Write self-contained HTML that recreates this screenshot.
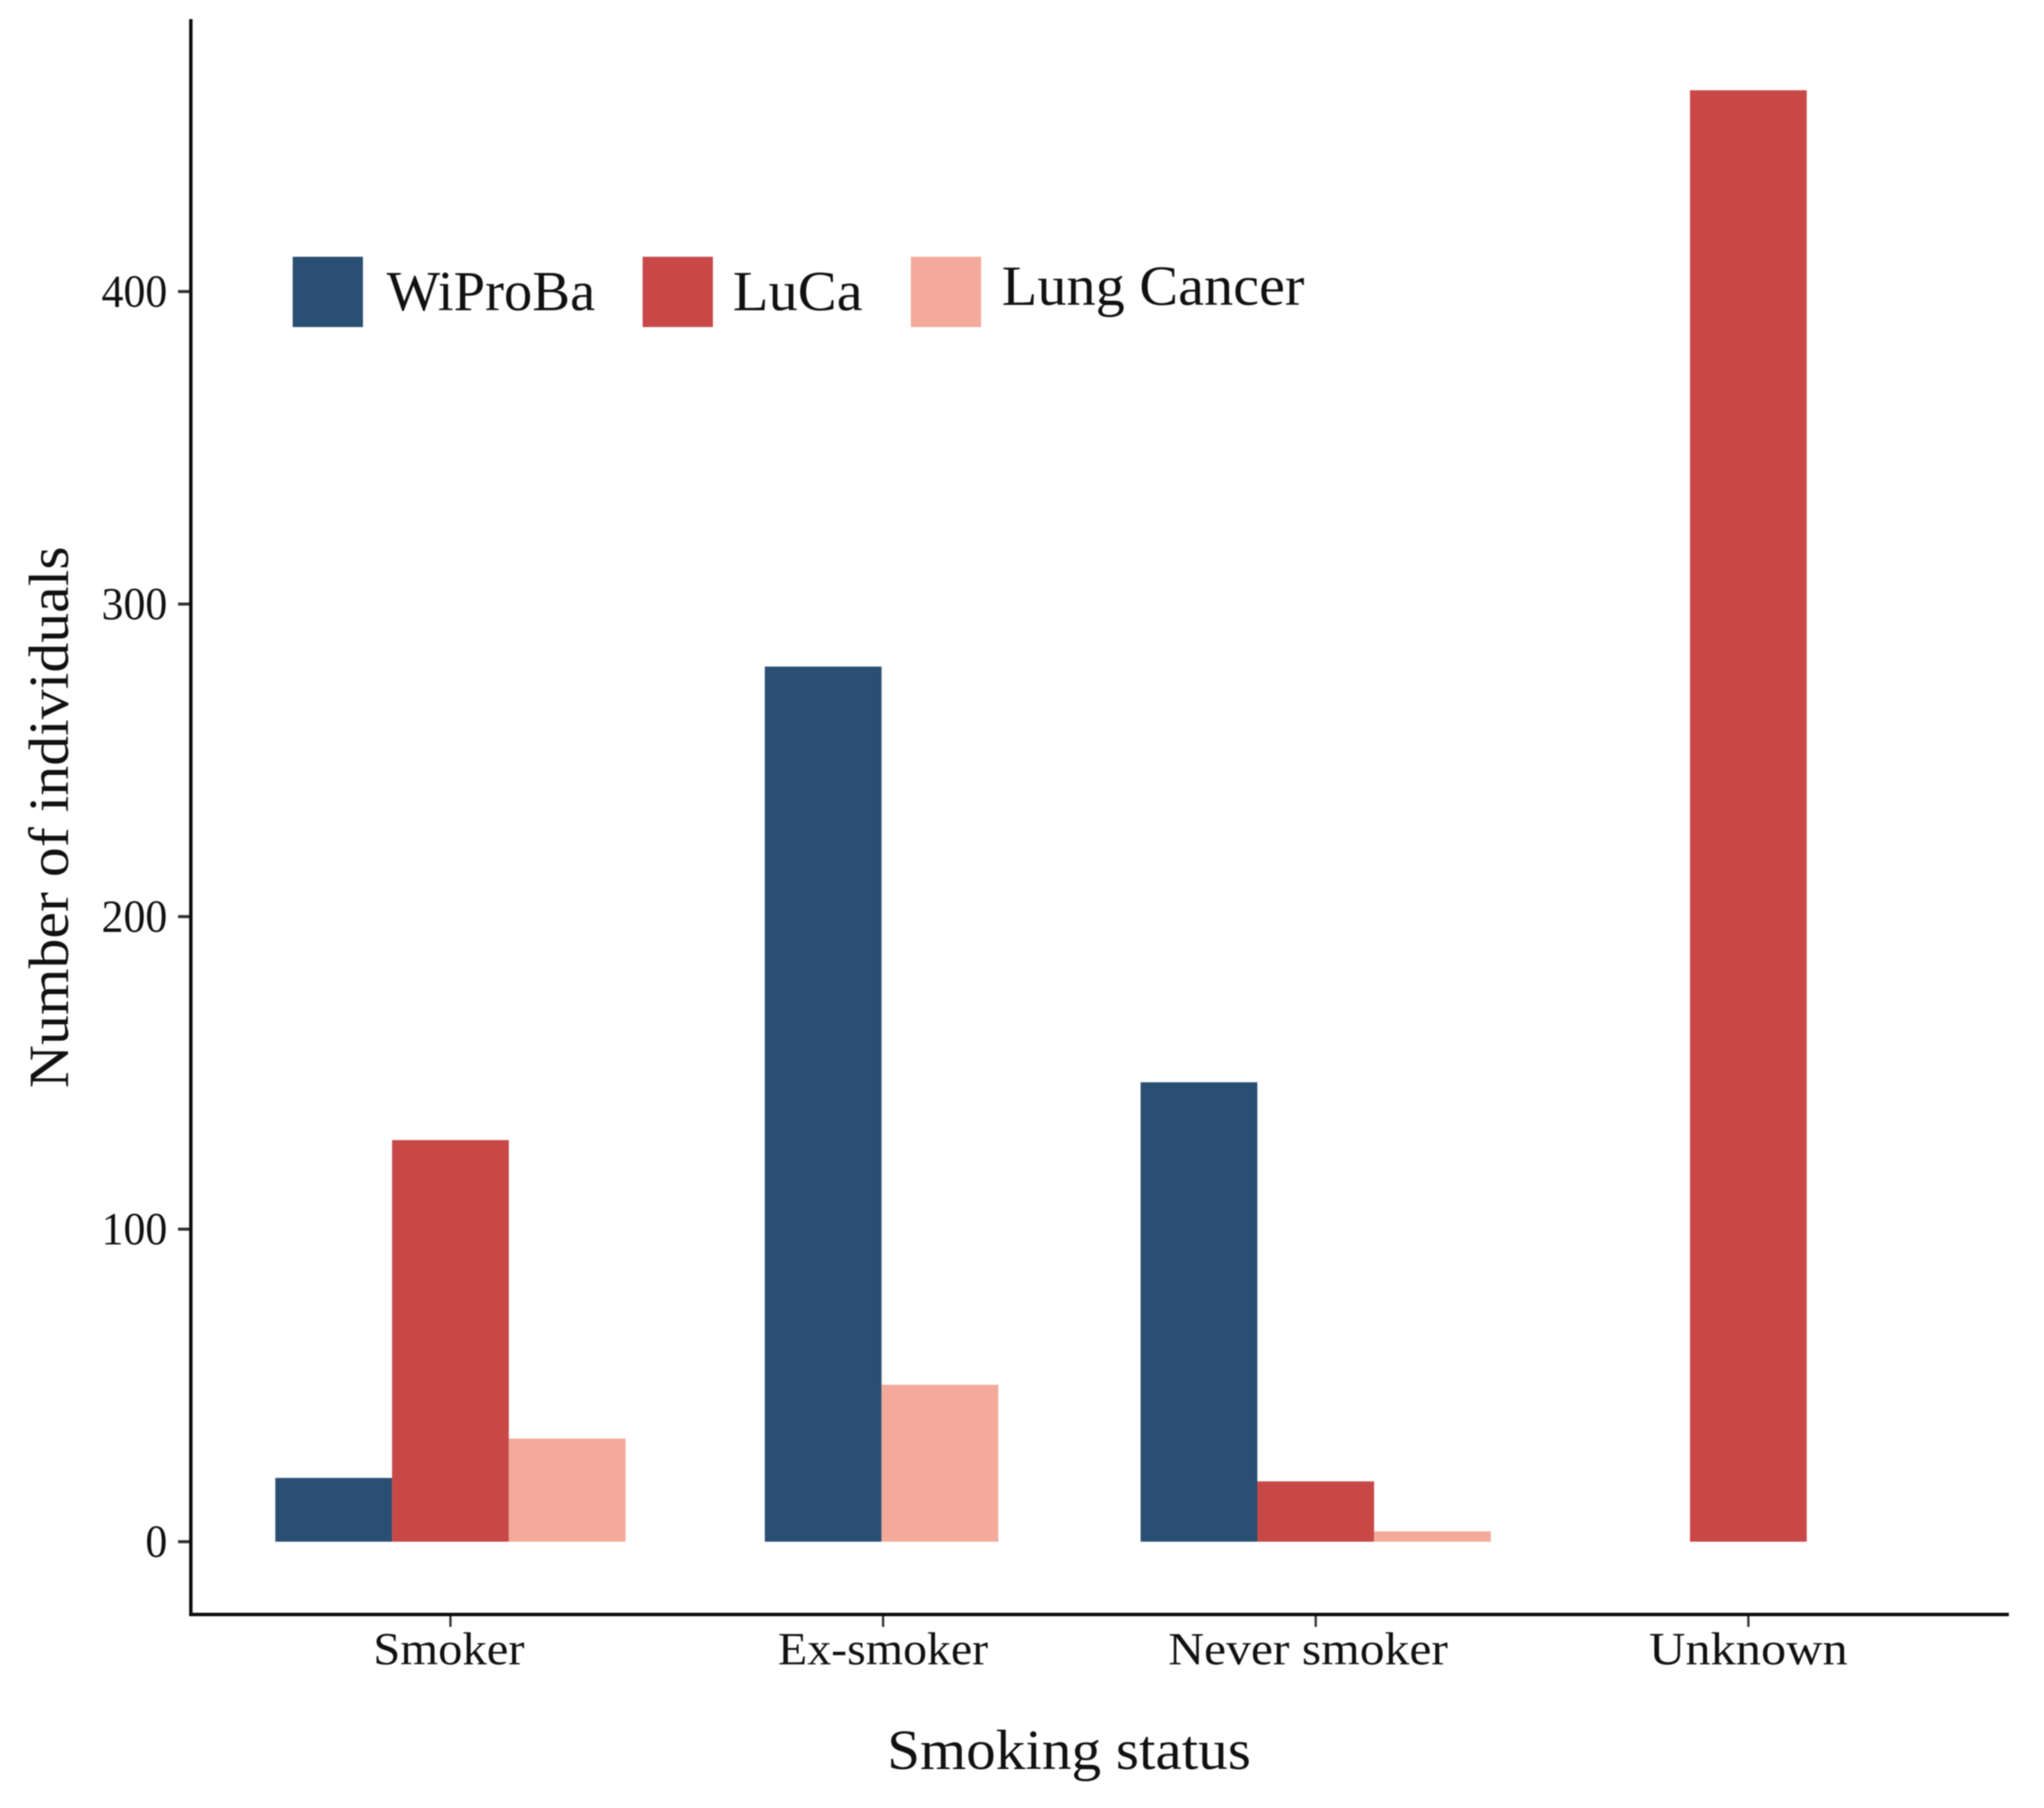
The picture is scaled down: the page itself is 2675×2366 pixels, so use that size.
<!DOCTYPE html>
<html lang="en">
<head>
<meta charset="utf-8">
<title>Number of individuals by smoking status</title>
<style>
html,body{margin:0;padding:0;background:#fff;}
body{width:2675px;height:2366px;overflow:hidden;}
svg{display:block;filter:blur(0.9px);}
text{font-family:"Liberation Serif",serif;fill:#111111;}
</style>
</head>
<body>
<svg id="chart" xmlns="http://www.w3.org/2000/svg" width="2675" height="2366" viewBox="0 0 2675 2366">
  <rect x="0" y="0" width="2675" height="2366" fill="#ffffff"/>
  <g id="bars"></g>
  <g id="y-ticks"></g>
  <g id="x-ticks"></g>
  <rect x="247.5" y="25" width="4.5" height="2090" fill="#0d0d0d"/>
  <rect x="247.5" y="2110.5" width="2381.5" height="4.5" fill="#0d0d0d"/>
  <g id="legend"></g>
  <text transform="translate(89,1424) rotate(-90)" font-size="74" textLength="709" lengthAdjust="spacingAndGlyphs">Number of individuals</text>
  <text x="1161" y="2315" font-size="74" textLength="476" lengthAdjust="spacingAndGlyphs">Smoking status</text>
</svg>
<script>
const categories = ["Smoker", "Ex-smoker", "Never smoker", "Unknown"];
const seriesNames = ["WiProBa", "LuCa", "Lung Cancer"];
const wiprobaValues = [20.4, 280, 147, null];
const lucaValues = [128.5, null, 19.3, 464.4];
const lungCancerValues = [33, 50.2, 3.3, null];
const yTickValues = [0, 100, 200, 300, 400];

const allSeries = [wiprobaValues, lucaValues, lungCancerValues];
const seriesColors = ["#2b4f72", "#c84848", "#f3aa9b"];
const seriesSlugs = ["wiproba", "luca", "lung-cancer"];
const NS = "http://www.w3.org/2000/svg";

function xScale(i) { return 589.5 + 566.2 * i; }
function yScale(v) { return 2017.5 - 4.09 * v; }
const barWidth = 152.8;
const groupNudge = [0, -2, 0, 0];

const barsGroup = document.getElementById("bars");
categories.forEach(function (cat, c) {
  const present = [];
  allSeries.forEach(function (vals, s) {
    if (vals[c] !== null) present.push(s);
  });
  const left = xScale(c) + (groupNudge[c] || 0) - present.length * barWidth / 2;
  present.forEach(function (s, k) {
    const v = allSeries[s][c];
    const r = document.createElementNS(NS, "rect");
    
    
    r.setAttribute("x", left + k * barWidth);
    r.setAttribute("y", yScale(v));
    r.setAttribute("width", barWidth);
    r.setAttribute("height", yScale(0) - yScale(v));
    r.setAttribute("fill", seriesColors[s]);
    barsGroup.appendChild(r);
  });
});

const yTicks = document.getElementById("y-ticks");
yTickValues.forEach(function (t) {
  const m = document.createElementNS(NS, "rect");
  
  
  m.setAttribute("x", 233);
  m.setAttribute("y", yScale(t) - 2);
  m.setAttribute("width", 15);
  m.setAttribute("height", 4);
  m.setAttribute("fill", "#333333");
  yTicks.appendChild(m);
  const l = document.createElementNS(NS, "text");
  
  
  l.setAttribute("x", 219);
  l.setAttribute("y", yScale(t) + 20);
  l.setAttribute("text-anchor", "end");
  l.setAttribute("font-size", "60");
  l.setAttribute("textLength", String(t).length * 28.7);
  l.setAttribute("lengthAdjust", "spacingAndGlyphs");
  l.textContent = t;
  yTicks.appendChild(l);
});

const xLabelLengths = [198, 275, 366, 260];
const xLabelShift = [-2, 0, -10, 0];
const xTicks = document.getElementById("x-ticks");
categories.forEach(function (cat, c) {
  const slug = cat.toLowerCase().replace(/ /g, "-");
  const m = document.createElementNS(NS, "rect");
  
  
  m.setAttribute("x", xScale(c) - 1.5);
  m.setAttribute("y", 2113);
  m.setAttribute("width", 3);
  m.setAttribute("height", 16);
  m.setAttribute("fill", "#333333");
  xTicks.appendChild(m);
  const l = document.createElementNS(NS, "text");
  
  
  l.setAttribute("x", xScale(c) + (xLabelShift[c] || 0));
  l.setAttribute("y", 2178);
  l.setAttribute("text-anchor", "middle");
  l.setAttribute("font-size", "60");
  l.setAttribute("textLength", xLabelLengths[c] || cat.length * 30);
  l.setAttribute("lengthAdjust", "spacingAndGlyphs");
  l.textContent = cat;
  xTicks.appendChild(l);
});

const swatchLefts = [383, 841, 1192];
const labelLefts = [506, 959, 1311];
const labelBaselines = [406, 406, 399];
const labelLengths = [273, 170, 396];
const legend = document.getElementById("legend");
seriesNames.forEach(function (name, s) {
  const sw = document.createElementNS(NS, "rect");
  
  
  sw.setAttribute("x", swatchLefts[s]);
  sw.setAttribute("y", 336);
  sw.setAttribute("width", 92);
  sw.setAttribute("height", 92);
  sw.setAttribute("fill", seriesColors[s]);
  legend.appendChild(sw);
  const l = document.createElementNS(NS, "text");
  
  
  l.setAttribute("x", labelLefts[s]);
  l.setAttribute("y", labelBaselines[s]);
  l.setAttribute("font-size", "74");
  l.setAttribute("textLength", labelLengths[s]);
  l.setAttribute("lengthAdjust", "spacingAndGlyphs");
  l.textContent = name;
  legend.appendChild(l);
});
</script>
</body>
</html>
